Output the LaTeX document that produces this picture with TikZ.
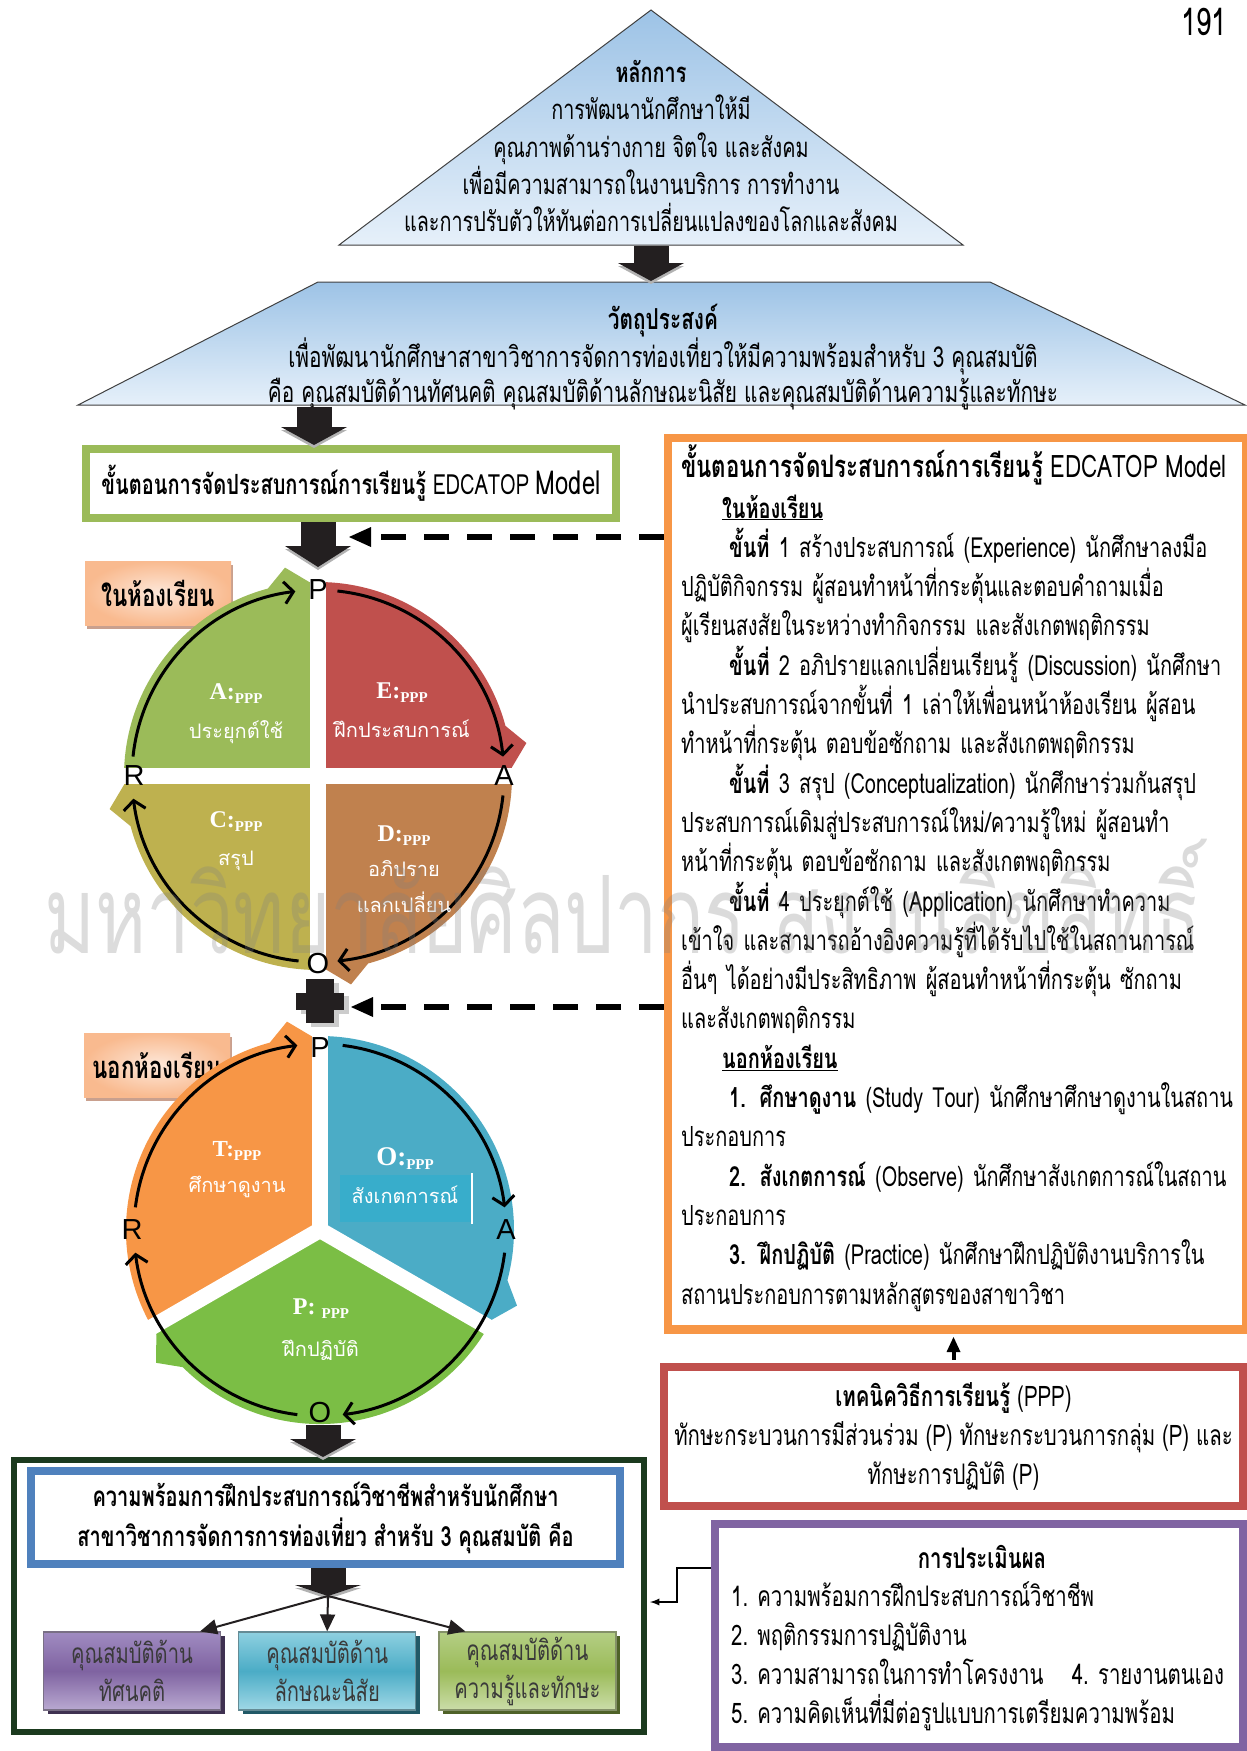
\documentclass[tikz,border=0pt]{standalone}
\usepackage{fontspec}
\newfontfamily\thaifont[Script=Thai,FakeStretch=0.72]{Loma}
\newfontfamily\thaiplain[Script=Thai]{Loma}
\newfontfamily\markfont[Script=Thai,FakeStretch=0.72]{Loma}
\newfontfamily\labelserif{Liberation Serif}
\newfontfamily\cyclefont{Liberation Sans}
\usetikzlibrary{arrows}
\usetikzlibrary{arrows.meta}
\usetikzlibrary{positioning,shadows}

\definecolor{tritop}{HTML}{9DC3E6}
\definecolor{tribot}{HTML}{E6F0FA}
\definecolor{arrowblack}{HTML}{231F20}
\definecolor{greenb}{HTML}{9BBB59}
\definecolor{orangeb}{HTML}{F79646}
\definecolor{redb}{HTML}{C0504D}
\definecolor{purpleb}{HTML}{8064A2}
\definecolor{blueb}{HTML}{4F81BD}
\definecolor{darkgreenb}{HTML}{1B3A1E}
\definecolor{qgreen}{HTML}{9BBB59}
\definecolor{qred}{HTML}{C0504D}
\definecolor{qbrown}{HTML}{C0814E}
\definecolor{qolive}{HTML}{BEB14F}
\definecolor{qorange}{HTML}{F79646}
\definecolor{qblue}{HTML}{4BACC6}
\definecolor{qlgreen}{HTML}{7BBE45}
\definecolor{qbluehi}{HTML}{38ADCB}
\definecolor{peachin}{HTML}{FDE8DA}
\definecolor{peachout}{HTML}{F9BA8F}
\definecolor{peachshadow}{HTML}{C9A08E}
\definecolor{ptop}{HTML}{A08BC1}
\definecolor{pmid}{HTML}{7F63A1}
\definecolor{pbot}{HTML}{B9A9D1}
\definecolor{pshadow}{HTML}{3F3151}
\definecolor{btop}{HTML}{8ED0E0}
\definecolor{bmid}{HTML}{4BACC6}
\definecolor{bbot}{HTML}{A0D8E6}
\definecolor{bshadow}{HTML}{215967}
\definecolor{gtop}{HTML}{B4CE84}
\definecolor{gmid}{HTML}{9BBB59}
\definecolor{gbot}{HTML}{CBDDA9}
\definecolor{gshadow}{HTML}{4F6228}
\definecolor{textgray}{HTML}{3A3A3A}

\newlength{\stepindent}\setlength{\stepindent}{48pt}
\newcommand{\jline}[1]{\makebox[\linewidth][s]{#1}\\}
\newcommand{\jfirst}[1]{\hspace*{\stepindent}\makebox[\dimexpr\linewidth-\stepindent\relax][s]{#1}\\}
\newcommand{\lastline}[1]{#1\\}
\newcommand{\roomhead}[1]{\hspace*{41pt}\underline{\textbf{#1}}\\}
\newcommand{\pppsub}{{\labelserif\bfseries\fontsize{15}{15}\selectfont\raisebox{-4pt}{PPP}}}
\newcommand{\pppmark}[2][24]{{\labelserif\bfseries\fontsize{#1}{#1}\selectfont #2:}\pppsub}

\tikzset{
  tribox/.style={draw=black!75, line width=1pt, top color=tritop, bottom color=tribot},
  bodytext/.style 2 args={font=\thaifont\fontsize{#1}{#2}\selectfont, inner sep=0pt},
  framebox/.style={draw=#1, line width=7pt, fill=white, inner sep=0pt},
  innerline/.style={draw=#1, line width=1.5pt},
  roomlabel/.style={minimum width=146, minimum height=64, inner color=peachin, outer color=peachout,
    font=\thaifont\bfseries\fontsize{31}{31}\selectfont,
    drop shadow={shadow xshift=2pt, shadow yshift=-4pt, fill=peachshadow, opacity=1}},
  sectorgap/.style={draw=white, line width=16pt},
  cyclearrow/.style={draw=black, line width=3pt, -{Straight Barb[length=9pt,width=22pt]}},
  cyclelabel/.style={font=\cyclefont\fontsize{29}{29}\selectfont, inner sep=0pt},
  quadlabel/.style={text=white, align=center, inner sep=0pt, font=\thaiplain\fontsize{20}{#1}\selectfont},
  blockarrow/.style={draw=arrowblack, line width=35pt, -{Triangle[length=#1,width=66pt,line width=0pt]},
    preaction={draw=black!30, transform canvas={yshift=-3pt}}},
  blockarrow/.default=18pt,
  dasharrow/.style={draw=black, line width=5.5pt, dash pattern=on 25pt off 18pt,
    -{Triangle[length=22pt,width=20pt,line width=0pt]}},
  smalldash/.style={draw=black, line width=4pt, dash pattern=on 9pt off 6pt,
    -{Triangle[length=15pt,width=14pt,line width=0pt]}},
  splitarrow/.style={draw=arrowblack, line width=2pt, -{Triangle[length=17pt,width=15pt]}},
  traitbox/.style={minimum width=177, minimum height=78, align=center, inner sep=0pt, text=textgray,
    line width=1.2pt, font=\thaifont\fontsize{28}{38}\selectfont},
  watermark/.style={font=\markfont\fontsize{108}{108}\selectfont, text=gray, text opacity=0.28, inner sep=0pt}
}

\begin{document}
\begin{tikzpicture}[x=1pt,y=1pt,font=\thaifont]
	\useasboundingbox (0,0) rectangle (1247,-1751);
	%
	\path[tribox] (651,-10) -- (963,-245) -- (339,-245) -- cycle;
	\node[bodytext={27.5}{37.2}, align=center] (principle) at (651,-146) {\textbf{หลักการ}\\การพัฒนานักศึกษาให้มี\\คุณภาพด้านร่างกาย จิตใจ และสังคม\\เพื่อมีความสามารถในงานบริการ การทำงาน\\และการปรับตัวให้ทันต่อการเปลี่ยนแปลงของโลกและสังคม};
	\coordinate (tribase) at (651,-246);
	\coordinate (goaltop) at (651,-281);
	%
	\path[tribox] (318,-282) -- (990,-282) -- (1245,-405) -- (78,-405) -- cycle;
	\node[bodytext={28.9}{35.5}, align=center] (objective) at (663,-357) {\textbf{วัตถุประสงค์}\\เพื่อพัฒนานักศึกษาสาขาวิชาการจัดการท่องเที่ยวให้มีความพร้อมสำหรับ 3 คุณสมบัติ\\คือ คุณสมบัติด้านทัศนคติ คุณสมบัติด้านลักษณะนิสัย และคุณสมบัติด้านความรู้และทักษะ};
	\coordinate (goalbase) at (314,-407);
	%
	\node[framebox=greenb, minimum width=531, minimum height=70, font=\thaifont\fontsize{27.8}{27.8}\selectfont] (model) at (351,-483.5) {\textbf{ขั้นตอนการจัดประสบการณ์การเรียนรู้} EDCATOP {\fontsize{33}{33}\selectfont Model}};
	\draw[innerline=greenb] ([shift={(7.5,-7.5)}]model.north west) rectangle ([shift={(-7.5,7.5)}]model.south east);
	%
	\node[roomlabel] (inlabel) at (158,-593) {ในห้องเรียน};
	\node[roomlabel] (outlabel) at (157,-1065) {นอกห้องเรียน};
	%
	% in-class cycle
	\coordinate (inc) at (318,-776);
	\fill[qgreen] (inc) -- ([shift={(180:194)}]inc) arc[start angle=180,end angle=90,radius=194] -- cycle;
	\fill[qred] (inc) -- ([shift={(90:194)}]inc) arc[start angle=90,end angle=0,radius=194] -- cycle;
	\fill[qbrown] (inc) -- ([shift={(0:194)}]inc) arc[start angle=0,end angle=-90,radius=194] -- cycle;
	\fill[qolive] (inc) -- ([shift={(270:194)}]inc) arc[start angle=270,end angle=180,radius=194] -- cycle;
	\draw[sectorgap] ([shift={(90:214)}]inc) -- ([shift={(270:214)}]inc);
	\draw[sectorgap] ([shift={(180:214)}]inc) -- ([shift={(0:214)}]inc);
	\fill[qgreen] ([shift={(105:194)}]inc) -- ([shift={(99:211)}]inc) -- ([shift={(92.5:194)}]inc) -- ([shift={(99:175)}]inc) -- cycle;
	\fill[qred] ([shift={(15:194)}]inc) -- ([shift={(9:211)}]inc) -- ([shift={(2.5:194)}]inc) -- ([shift={(9:175)}]inc) -- cycle;
	\fill[qbrown] ([shift={(-75:194)}]inc) -- ([shift={(-81:211)}]inc) -- ([shift={(-87.5:194)}]inc) -- ([shift={(-81:175)}]inc) -- cycle;
	\fill[qolive] ([shift={(195:194)}]inc) -- ([shift={(189:211)}]inc) -- ([shift={(182.5:194)}]inc) -- ([shift={(189:175)}]inc) -- cycle;
	\draw[cyclearrow] ([shift={(174:186)}]inc) arc[start angle=174,end angle=97,radius=186];
	\draw[cyclearrow] ([shift={(84:186)}]inc) arc[start angle=84,end angle=6,radius=186];
	\draw[cyclearrow] ([shift={(-6:186)}]inc) arc[start angle=-6,end angle=-84,radius=186];
	\draw[cyclearrow] ([shift={(-96:186)}]inc) arc[start angle=-96,end angle=-173,radius=186];
	\node[cyclelabel] (inP) at ([shift={(90:186)}]inc) {P};
	\node[cyclelabel] (inA) at ([shift={(0:186)}]inc) {A};
	\node[cyclelabel] (inO) at ([shift={(270:188)}]inc) {O};
	\node[cyclelabel] (inR) at ([shift={(180:184)}]inc) {R};
	\node[quadlabel=39] (qa) at (236,-714) {\pppmark{A}\\ประยุกต์ใช้};
	\node[quadlabel=39] (qe) at (402,-710) {\pppmark{E}\\ฝึกประสบการณ์};
	\node[quadlabel=38] (qc) at (236,-841) {\pppmark{C}\\สรุป};
	\node[quadlabel=35.5] (qd) at (404,-869) {\pppmark{D}\\อภิปราย\\แลกเปลี่ยน};
	%
	% out-of-class cycle
	\coordinate (outc) at (320,-1230);
	\fill[qorange] (outc) -- ([shift={(210:194)}]outc) arc[start angle=210,end angle=90,radius=194] -- cycle;
	\fill[qblue] (outc) -- ([shift={(90:194)}]outc) arc[start angle=90,end angle=-30,radius=194] -- cycle;
	\fill[qlgreen] (outc) -- ([shift={(-30:194)}]outc) arc[start angle=-30,end angle=-150,radius=194] -- cycle;
	\draw[sectorgap] (outc) -- ([shift={(90:214)}]outc);
	\draw[sectorgap] (outc) -- ([shift={(210:214)}]outc);
	\draw[sectorgap] (outc) -- ([shift={(330:214)}]outc);
	\fill[white] (outc) circle[radius=8];
	\fill[qorange] ([shift={(105:194)}]outc) -- ([shift={(99:211)}]outc) -- ([shift={(92.5:194)}]outc) -- ([shift={(99:175)}]outc) -- cycle;
	\fill[qblue] ([shift={(-15:194)}]outc) -- ([shift={(-21:211)}]outc) -- ([shift={(-27.5:194)}]outc) -- ([shift={(-21:175)}]outc) -- cycle;
	\fill[qlgreen] ([shift={(-135:194)}]outc) -- ([shift={(-141:211)}]outc) -- ([shift={(-147.5:194)}]outc) -- ([shift={(-141:175)}]outc) -- cycle;
	\fill[qbluehi] (340,-1175) rectangle (472,-1222);
	\draw[white, line width=1.2pt] (472,-1173) -- (472,-1224);
	\draw[cyclearrow] ([shift={(83:186)}]outc) arc[start angle=83,end angle=7,radius=186];
	\draw[cyclearrow] ([shift={(-7:186)}]outc) arc[start angle=-7,end angle=-83,radius=186];
	\draw[cyclearrow] ([shift={(-97:186)}]outc) arc[start angle=-97,end angle=-173,radius=186];
	\draw[cyclearrow] ([shift={(173:186)}]outc) arc[start angle=173,end angle=97,radius=186];
	\node[cyclelabel] (outP) at ([shift={(90:182)}]outc) {P};
	\node[cyclelabel] (outA) at ([shift={(0:186)}]outc) {A};
	\node[cyclelabel] (outO) at ([shift={(270:182)}]outc) {O};
	\node[cyclelabel] (outR) at ([shift={(180:188)}]outc) {R};
	\node[quadlabel=36] (qt) at (237,-1170) {\pppmark[23]{T}\\ศึกษาดูงาน};
	\node[quadlabel=38] (qo) at (405,-1176) {\pppmark[27]{O}\\สังเกตการณ์};
	\node[quadlabel=42] (qp) at (321,-1330) {{\labelserif\bfseries\fontsize{24}{24}\selectfont P:}\hspace{6pt}\pppsub\\ฝึกปฏิบัติ};
	%
	\fill[black!20] (301,-996) rectangle (349,-1014);
	\fill[black!20] (311,-983) rectangle (339,-1027);
	\fill[arrowblack] (306,-979) rectangle (334,-1023);
	\fill[arrowblack] (296,-993) rectangle (344,-1010);
	\coordinate (plustip) at (351,-1007);
	\coordinate (intip) at (349,-537);
	\coordinate (inentry) at (318,-567);
	\coordinate (outexit) at (323,-1425);
	\coordinate (splitc) at (328,-1596);
	%
	% right column
	\node[framebox=orangeb, minimum width=580, minimum height=893, anchor=north west] (steps) at (663.5,-433.5) {};
	\draw[innerline=orangeb] ([shift={(7.5,-7.5)}]steps.north west) rectangle ([shift={(-7.5,7.5)}]steps.south east);
	\node[font=\thaifont\fontsize{31}{31}\selectfont, anchor=base west, inner sep=0pt] (stepstitle) at (681,-477) {\textbf{ขั้นตอนการจัดประสบการณ์การเรียนรู้} EDCATOP Model};
	\node[bodytext={27.7}{39.3}, text width=531, anchor=base west] (stepstext) at (681,-518) {%
	\roomhead{ในห้องเรียน}
	\jfirst{\textbf{ขั้นที่} 1 สร้างประสบการณ์ (Experience) นักศึกษาลงมือ}
	\jline{ปฏิบัติกิจกรรม ผู้สอนทำหน้าที่กระตุ้นและตอบคำถามเมื่อ}
	\lastline{ผู้เรียนสงสัยในระหว่างทำกิจกรรม และสังเกตพฤติกรรม}
	\jfirst{\textbf{ขั้นที่} 2 อภิปรายแลกเปลี่ยนเรียนรู้ (Discussion) นักศึกษา}
	\jline{นำประสบการณ์จากขั้นที่ 1 เล่าให้เพื่อนหน้าห้องเรียน ผู้สอน}
	\lastline{ทำหน้าที่กระตุ้น ตอบข้อซักถาม และสังเกตพฤติกรรม}
	\jfirst{\textbf{ขั้นที่} 3 สรุป (Conceptualization) นักศึกษาร่วมกันสรุป}
	\jline{ประสบการณ์เดิมสู่ประสบการณ์ใหม่/ความรู้ใหม่ ผู้สอนทำ}
	\lastline{หน้าที่กระตุ้น ตอบข้อซักถาม และสังเกตพฤติกรรม}
	\jfirst{\textbf{ขั้นที่} 4 ประยุกต์ใช้ (Application) นักศึกษาทำความ}
	\jline{เข้าใจ และสามารถอ้างอิงความรู้ที่ได้รับไปใช้ในสถานการณ์}
	\jline{อื่นๆ ได้อย่างมีประสิทธิภาพ ผู้สอนทำหน้าที่กระตุ้น ซักถาม}
	\lastline{และสังเกตพฤติกรรม}
	\roomhead{นอกห้องเรียน}
	\jfirst{\textbf{1. ศึกษาดูงาน} (Study Tour) นักศึกษาศึกษาดูงานในสถาน}
	\lastline{ประกอบการ}
	\jfirst{\textbf{2. สังเกตการณ์} (Observe) นักศึกษาสังเกตการณ์ในสถาน}
	\lastline{ประกอบการ}
	\jfirst{\textbf{3. ฝึกปฏิบัติ} (Practice) นักศึกษาฝึกปฏิบัติงานบริการใน}
	สถานประกอบการตามหลักสูตรของสาขาวิชา};
	%
	\node[framebox=redb, minimum width=580, minimum height=140, align=center, bodytext={28.3}{39}] (pppbox) at (953.5,-1436.5) {\textbf{เทคนิควิธีการเรียนรู้} (PPP)\\ทักษะกระบวนการมีส่วนร่วม (P) ทักษะกระบวนการกลุ่ม (P) และ\\ทักษะการปฏิบัติ (P)};
	\draw[innerline=redb] ([shift={(7.5,-7.5)}]pppbox.north west) rectangle ([shift={(-7.5,7.5)}]pppbox.south east);
	%
	\node[framebox=purpleb, minimum width=529, minimum height=224] (evalbox) at (979,-1635.5) {};
	\draw[innerline=purpleb] ([shift={(7.5,-7.5)}]evalbox.north west) rectangle ([shift={(-7.5,7.5)}]evalbox.south east);
	\node[bodytext={28.3}{38.7}, anchor=base] (evaltitle) at (982,-1568) {\textbf{การประเมินผล}};
	\node[bodytext={28.3}{38.7}, align=left, anchor=base west] (evaltext) at (731,-1723) {%
	1. ความพร้อมการฝึกประสบการณ์วิชาชีพ\\
	2. พฤติกรรมการปฏิบัติงาน\\
	3. ความสามารถในการทำโครงงาน\quad 4. รายงานตนเอง\\
	5. ความคิดเห็นที่มีต่อรูปแบบการเตรียมความพร้อม};
	%
	% readiness
	\node[framebox=darkgreenb, line width=6pt, minimum width=630, minimum height=272] (readybox) at (329,-1596) {};
	\node[framebox=blueb, minimum width=590, minimum height=94, align=center, bodytext={27.8}{40}] (readytitle) at (325.5,-1517.5) {\textbf{ความพร้อมการฝึกประสบการณ์วิชาชีพสำหรับนักศึกษา}\\\textbf{สาขาวิชาการจัดการการท่องเที่ยว สำหรับ 3 คุณสมบัติ คือ}};
	\draw[innerline=blueb] ([shift={(7.5,-7.5)}]readytitle.north west) rectangle ([shift={(-7.5,7.5)}]readytitle.south east);
	\node[traitbox, top color=ptop, bottom color=pbot, middle color=pmid, draw=pshadow!70,
	  drop shadow={shadow xshift=4pt, shadow yshift=-4pt, fill=pshadow, opacity=1}] (attbox) at (132,-1671) {คุณสมบัติด้าน\\ทัศนคติ};
	\node[traitbox, top color=btop, bottom color=bbot, middle color=bmid, draw=bshadow!70,
	  drop shadow={shadow xshift=4pt, shadow yshift=-4pt, fill=bshadow, opacity=1}, right=17pt of attbox] (charbox) {คุณสมบัติด้าน\\ลักษณะนิสัย};
	\node[traitbox, top color=gtop, bottom color=gbot, middle color=gmid, draw=gshadow!70,
	  drop shadow={shadow xshift=4pt, shadow yshift=-4pt, fill=gshadow, opacity=1}, right=22pt of charbox] (skillbox) {คุณสมบัติด้าน\\ความรู้และทักษะ};
	%
	% connectors
	\draw[blockarrow] (tribase) -- (goaltop);
	\draw[blockarrow] (goalbase) -- (goalbase |- model.north);
	\draw[blockarrow=21pt] (model.south -| inc) -- (inentry);
	\draw[blockarrow] (outexit) -- (outexit |- readybox.north);
	\draw[blockarrow=11pt] (readytitle.south -| splitc) -- (splitc);
	\draw[splitarrow] (splitc) -- ([xshift=68]attbox.north);
	\draw[splitarrow] (splitc) -- (charbox.north);
	\draw[splitarrow] (splitc) -- ([xshift=-62]skillbox.north);
	\draw[dasharrow] (steps.west |- intip) -- (intip);
	\draw[dasharrow] (steps.west |- plustip) -- (plustip);
	\draw[smalldash] ([yshift=3.5]pppbox.north) -- ([yshift=-3.5]steps.south -| pppbox.north);
	\draw[-latex, line width=2.2pt] ([yshift=67.5]evalbox.west) -- ++(-34,0) |- ([shift={(3,-6)}]readybox.east);
	%
	\node[watermark] (wmark) at (623,-897) {มหาวิทยาลัยศิลปากร สงวนลิขสิทธิ์};
	\node[font=\thaifont\fontsize{38}{38}\selectfont, inner sep=0pt] (pagenum) at (1204,-22) {191};
\end{tikzpicture}
\end{document}
